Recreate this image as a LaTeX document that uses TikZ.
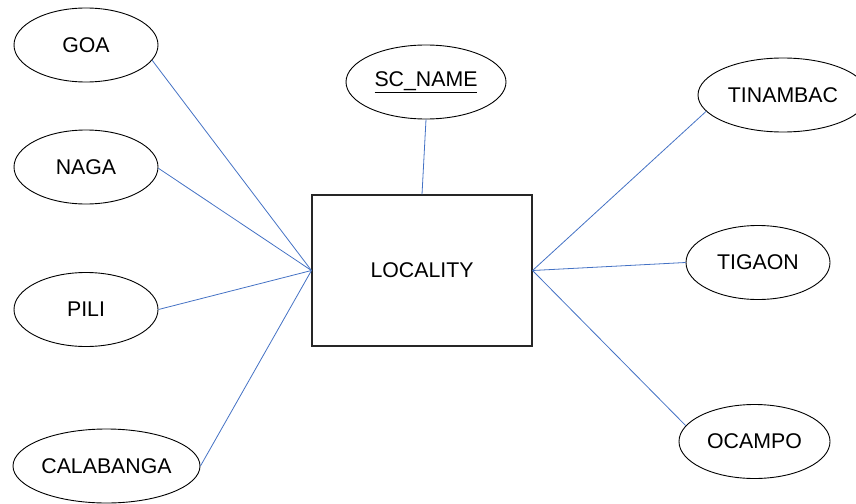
\documentclass[tikz,border=0pt]{standalone}
\usepackage{fontspec}
\setmainfont{Liberation Sans}
\usetikzlibrary{shapes.geometric}
\definecolor{linkblue}{HTML}{4472C4}
\tikzset{
  attr/.style={ellipse, draw=black, line width=0.9pt, inner sep=0pt, minimum height=74pt, font=\fontsize{21.3}{25}\selectfont},
  ent/.style={rectangle, draw=black!85, line width=1.1pt, inner sep=0pt, minimum width=220pt, minimum height=151pt, font=\fontsize{21.3}{25}\selectfont},
  link/.style={draw=linkblue, line width=0.8pt}
}
\begin{document}
\begin{tikzpicture}[x=1pt,y=-1pt]
\useasboundingbox (0,0) rectangle (856,503);
\node[ent] (loc) at (422,270.5) {LOCALITY};
\node[attr, minimum width=144pt] (goa) at (86,45) {GOA};
\node[attr, minimum width=144pt] (naga) at (86,167) {NAGA};
\node[attr, minimum width=144pt] (pili) at (86,309.5) {PILI};
\node[attr, minimum width=187pt] (cal) at (106.5,466) {CALABANGA};
\node[attr, minimum width=160pt] (sc) at (426,82) {\underline{SC\_NAME}};
\node[attr, minimum width=170pt] (tin) at (783,95) {TINAMBAC};
\node[attr, minimum width=144pt] (tig) at (758,262.5) {TIGAON};
\node[attr, minimum width=151pt] (oca) at (754.5,441.5) {OCAMPO};
\draw[link] (goa.-13.6) -- (loc.west);
\draw[link] (naga.-1) -- (loc.west);
\draw[link] (pili.east) -- (loc.west);
\draw[link] (cal.east) -- (loc.west);
\draw[link] (sc.south) -- (loc.north);
\draw[link] (tin.192.4) -- (loc.east);
\draw[link] (tig.west) -- (loc.east);
\draw[link] (oca.167.9) -- (loc.east);
\end{tikzpicture}
\end{document}
